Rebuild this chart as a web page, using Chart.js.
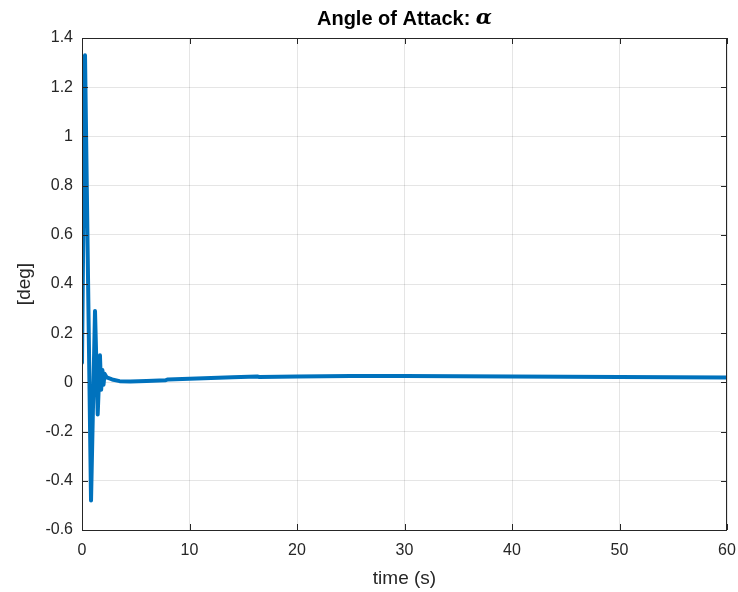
<!DOCTYPE html>
<html>
<head>
<meta charset="utf-8">
<script src="https://cdn.jsdelivr.net/npm/chart.js@4/dist/chart.umd.min.js"></script>
<style>
  html, body { margin: 0; padding: 0; background: #fff; }
  #wrap { width: 738px; height: 592px; }
</style>
</head>
<body>
<div id="wrap"><canvas id="c" width="738" height="592"></canvas></div>
<script>
// time samples (s) and angle of attack (deg)
const timeS = [0, 0.28, 0.84, 1.21, 1.46, 1.67, 1.78, 1.9, 2.0, 2.1, 2.3, 2.8, 3.5, 4.5, 6, 7.8, 8, 10, 12, 14, 16.3, 16.5, 20, 25, 30, 35, 40, 45, 50, 55, 60];
const alphaDeg = [0.08, 1.33, -0.48, 0.29, -0.13, 0.11, -0.03, 0.05, -0.01, 0.035, 0.02, 0.012, 0.005, 0.004, 0.006, 0.009, 0.012, 0.015, 0.018, 0.021, 0.024, 0.022, 0.024, 0.026, 0.026, 0.025, 0.024, 0.023, 0.022, 0.021, 0.02];

const xTicks = [0, 10, 20, 30, 40, 50, 60];
const yTicks = [-0.6, -0.4, -0.2, 0, 0.2, 0.4, 0.6, 0.8, 1, 1.2, 1.4];

const titleText = "Angle of Attack: ";
const titleSymbol = "\u03B1";
const xLabel = "time (s)";
const yLabel = "[deg]";

const axisColor = "#262626";
const sans = "'Liberation Sans', Helvetica, Arial, sans-serif";

// draws the title, the box around the axes and the inward tick marks
const matlabAxes = {
    id: "matlabAxes",
    afterDraw(chart) {
        const {ctx, chartArea: a, scales} = chart;
        ctx.save();
        ctx.strokeStyle = axisColor;
        ctx.lineWidth = 1;
        ctx.strokeRect(a.left + 0.5, a.top + 0.5, a.right - a.left - 1, a.bottom - a.top);
        ctx.beginPath();
        xTicks.forEach(v => {
            const px = Math.round(scales.x.getPixelForValue(v)) + 0.5;
            ctx.moveTo(px, a.bottom); ctx.lineTo(px, a.bottom - 6);
            ctx.moveTo(px, a.top); ctx.lineTo(px, a.top + 6);
        });
        yTicks.forEach(v => {
            const py = Math.round(scales.y.getPixelForValue(v)) + 0.5;
            ctx.moveTo(a.left, py); ctx.lineTo(a.left + 6, py);
            ctx.moveTo(a.right, py); ctx.lineTo(a.right - 6, py);
        });
        ctx.stroke();

        // title
        ctx.fillStyle = "#000";
        ctx.textBaseline = "middle";
        const f1 = "bold 20px " + sans;
        const f2 = "bold italic 21px 'DejaVu Serif', 'Liberation Serif', serif";
        ctx.font = f1;
        const w1 = ctx.measureText(titleText).width;
        ctx.font = f2;
        const w2 = ctx.measureText(titleSymbol).width;
        const x0 = (a.left + a.right) / 2 - (w1 + w2) / 2;
        ctx.font = f1;
        ctx.textAlign = "left";
        ctx.fillText(titleText, x0, 19);
        ctx.font = f2;
        ctx.fillText(titleSymbol, x0 + w1, 19);
        ctx.restore();
    }
};

new Chart(document.getElementById("c").getContext("2d"), {
    type: "line",
    data: {
        datasets: [{
            data: timeS.map((t, i) => ({x: t, y: alphaDeg[i]})),
            borderColor: "#0072BD",
            backgroundColor: "#0072BD",
            borderWidth: 4,
            borderJoinStyle: "round",
            borderCapStyle: "round",
            pointRadius: 0,
            tension: 0,
            fill: false
        }]
    },
    options: {
        responsive: false,
        animation: false,
        layout: {padding: {top: 38, right: 11, left: 0, bottom: 0}},
        plugins: {legend: {display: false}, tooltip: {enabled: false}, title: {display: false}},
        scales: {
            x: {
                type: "linear",
                min: 0, max: 60,
                afterFit: s => { s.height = 62; s.paddingLeft = 0; s.paddingRight = 0; },
                afterBuildTicks: s => { s.ticks = xTicks.map(v => ({value: v})); },
                grid: {color: "rgba(38,38,38,0.12)", drawTicks: false},
                border: {display: false},
                ticks: {color: axisColor, font: {family: sans, size: 16}, padding: 11, maxRotation: 0},
                title: {display: true, text: xLabel, color: axisColor, font: {family: sans, size: 19}, padding: {top: 1, bottom: 2}}
            },
            y: {
                type: "linear",
                min: -0.6, max: 1.4,
                afterFit: s => { s.width = 82; s.paddingTop = 0; s.paddingBottom = 0; },
                afterBuildTicks: s => { s.ticks = yTicks.map(v => ({value: v})); },
                grid: {color: "rgba(38,38,38,0.12)", drawTicks: false},
                border: {display: false},
                ticks: {color: axisColor, font: {family: sans, size: 16}, padding: 9,
                        callback: v => String(parseFloat(v.toFixed(1)))},
                title: {display: true, text: yLabel, color: axisColor, font: {family: sans, size: 19}, padding: {top: 13, bottom: 0}}
            }
        }
    },
    plugins: [matlabAxes]
});
</script>
</body>
</html>
